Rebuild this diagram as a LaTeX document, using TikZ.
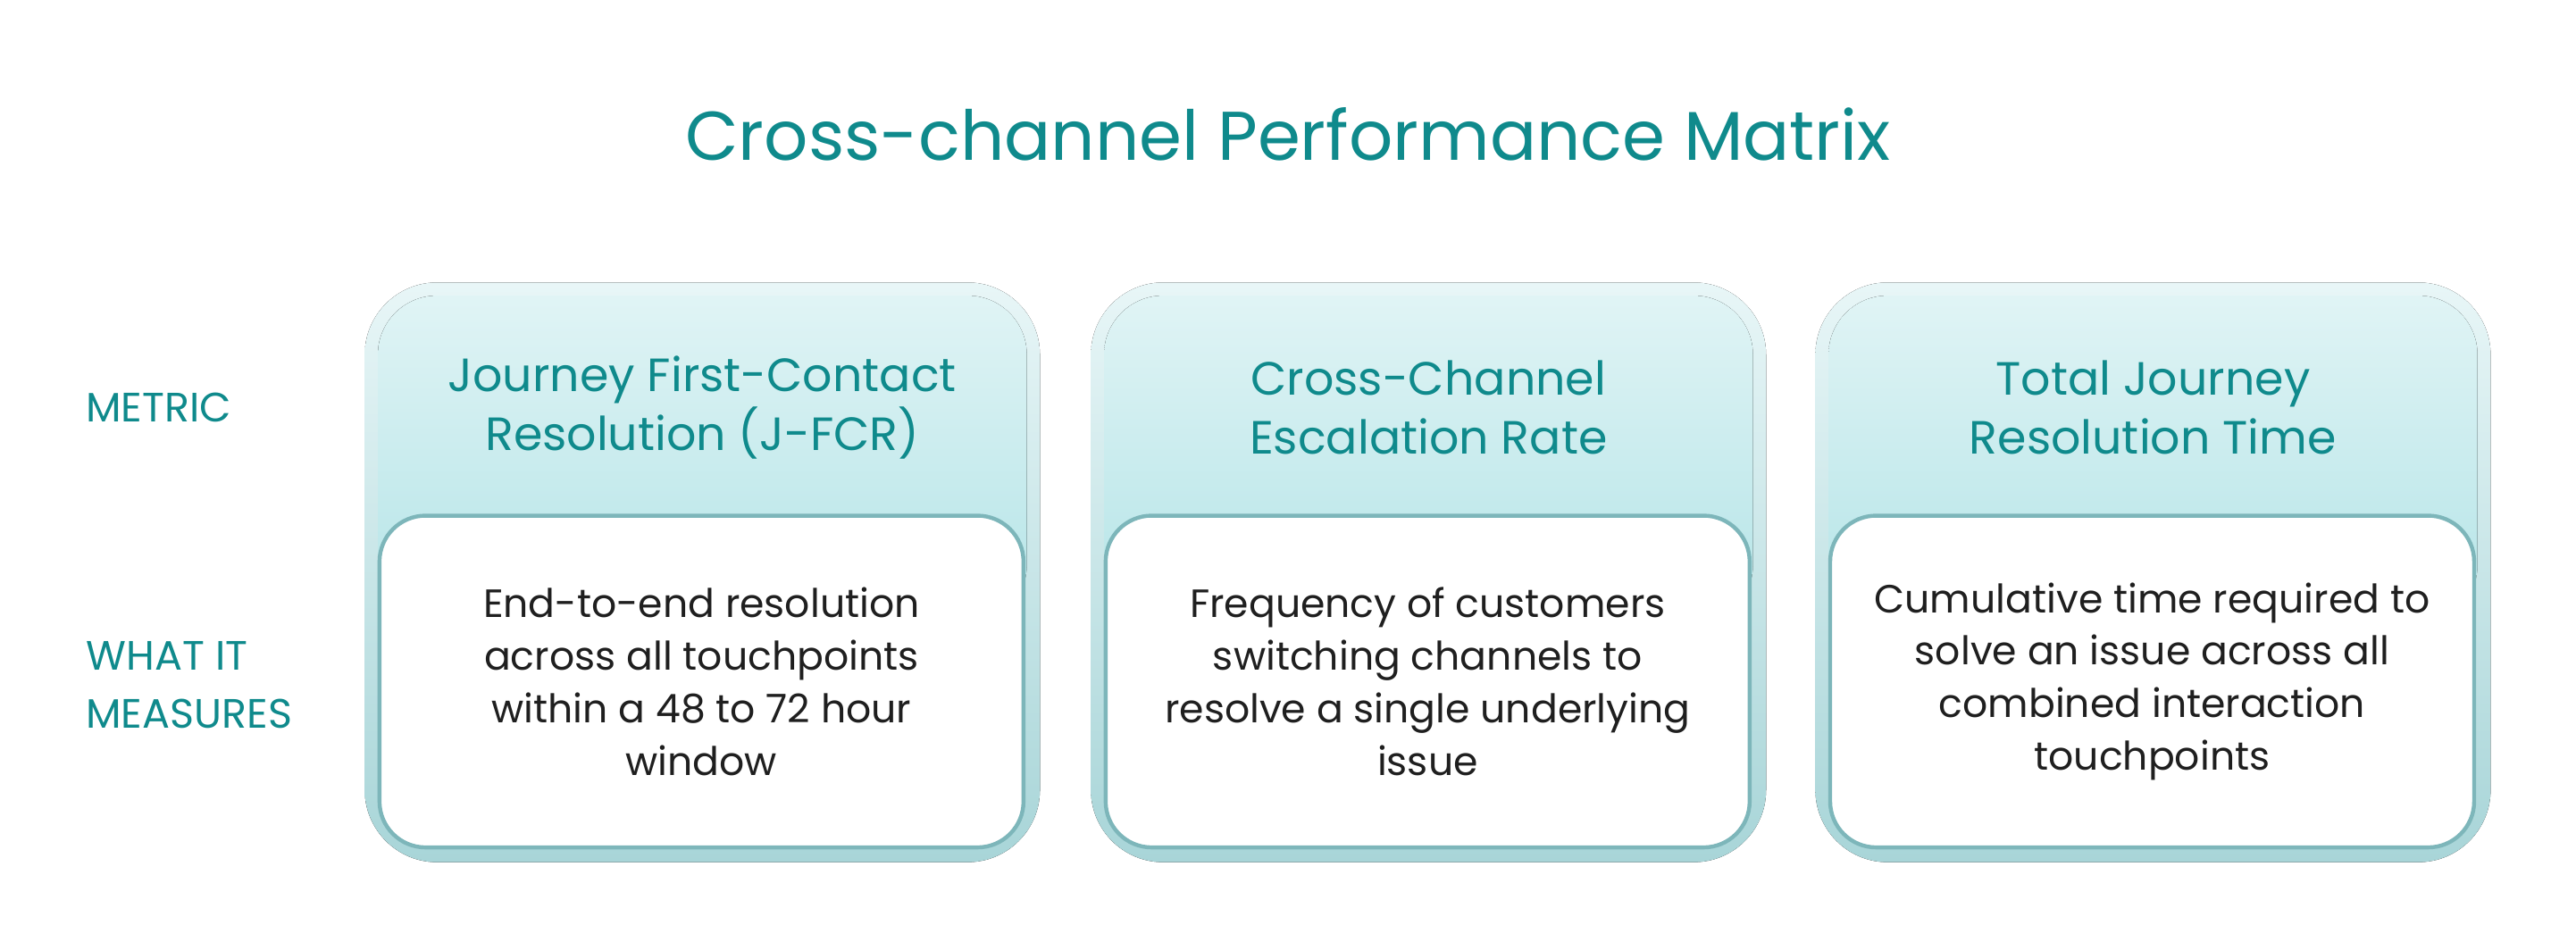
\documentclass[tikz,border=0pt]{standalone}
\usepackage{fontspec}
\setmainfont{Poppins}
\begin{document}
\begin{tikzpicture}[x=0.5pt,y=-0.5pt,
  outer/.style={rounded corners=22pt, top color=outtop, bottom color=outbot, draw=none},
  panel/.style={rounded corners=18pt, top color=pantop, bottom color=panbot, draw=none},
  body/.style={rounded corners=14pt, fill=white, draw=bordc, line width=1.2pt},
  ttl/.style={text=tealtxt, font=\fontsize{14.2}{18}\selectfont, align=center},
  txt/.style={text=black!88, font=\fontsize{12}{16}\selectfont, align=center},
  lab/.style={text=tealtxt, font=\fontsize{12.5}{17.5}\selectfont, align=left, anchor=west, inner sep=0pt}]
\definecolor{tealtxt}{HTML}{0F8A8C}
\definecolor{outtop}{HTML}{E8F6F7}
\definecolor{outbot}{HTML}{A8D5D8}
\definecolor{pantop}{HTML}{E0F4F5}
\definecolor{panbot}{HTML}{B4E4E7}
\definecolor{bordc}{HTML}{7DB6BA}
\useasboundingbox (0,0) rectangle (1568,578);
\fill[white] (0,0) rectangle (1568,578);
\node[text=tealtxt, font=\fontsize{21}{25}\selectfont] (title) at (784,82) {Cross-channel Performance Matrix};
\node[lab] (metric) at (52,248) {METRIC};
\node[lab] (what) at (52,417) {WHAT IT\\MEASURES};
\foreach \x/\n/\t/\b in {
  222/c1/{Journey First-Contact\\Resolution (J-FCR)}/{End-to-end resolution\\across all touchpoints\\within a 48 to 72 hour\\window},
  664/c2/{Cross-Channel\\Escalation Rate}/{Frequency of customers\\switching channels to\\resolve a single underlying\\issue},
  1105/c3/{Total Journey\\Resolution Time}/{Cumulative time required to\\solve an issue across all\\combined interaction\\touchpoints}}{
  \fill[outer] (\x,172) rectangle ++(411,353);
  \fill[panel] (\x+8,180) rectangle ++(395,200);
  \draw[body] (\x+9,314) rectangle ++(392,202);
  \node[ttl] (\n t) at (\x+205.5,248) {\t};
  \node[txt] (\n b) at (\x+205,415) {\b};
}
\end{tikzpicture}
\end{document}
